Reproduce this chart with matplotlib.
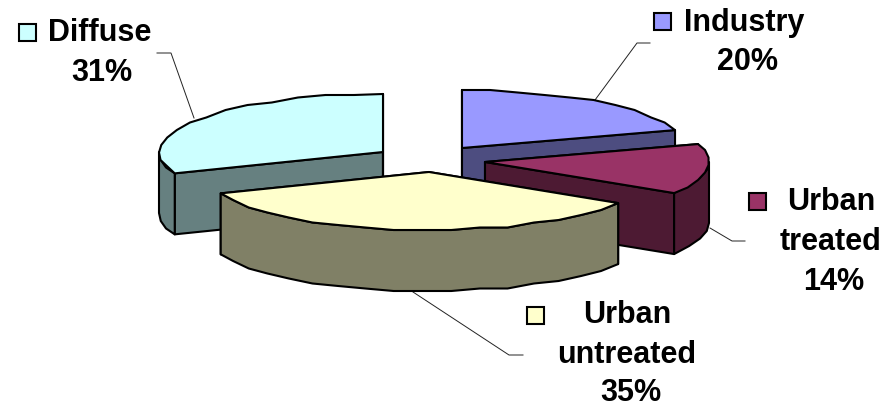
"""3D exploded pie of pollution sources, drawn as extruded elliptical slices."""
import numpy as np
import matplotlib
matplotlib.use('Agg')
import matplotlib.pyplot as plt
from matplotlib.patches import Polygon, Rectangle

categories = ['Industry', 'Urban\ntreated', 'Urban\nuntreated', 'Diffuse']
shares = [20, 14, 35, 31]
top_colors = ['#9999FF', '#993366', '#FFFFCC', '#CCFFFF']
side_colors = ['#4D4D80', '#4D1A33', '#808066', '#668080']

# pie geometry, in pixels
RX, RY = 224, 58
DEPTH = 61
APEX = [(462, 148), (485, 162), (429, 172), (383, 152)]  # exploded slice tips
SNAP = 2.5  # coarse vertical steps, gives the arcs their stepped look

# label layout: text centre x, line baselines y, key box, leader polyline
LABELS = {
    'Industry': dict(x=[744, 747], y=[31, 70], key=(654, 13), leader=[(650, 43), (637, 43), (595, 100)]),
    'Urban\ntreated': dict(x=[831, 831, 834], y=[210, 250, 290], key=(749, 193), leader=[(745, 241), (732, 241), (710, 228)]),
    'Urban\nuntreated': dict(x=[627, 627, 631], y=[323, 363, 401], key=(527, 307), leader=[(523, 355), (509, 355), (413, 292)]),
    'Diffuse': dict(x=[100, 102], y=[41, 81], key=(19, 24), leader=[(157, 53), (171, 53), (194, 118)]),
}

plt.rcParams['font.family'] = ['Liberation Sans', 'DejaVu Sans']


def rim(ax0, ay0, a0, a1):
    """Stepped points on the slice rim; angles run clockwise from 12 o'clock."""
    n = max(int(abs(a1 - a0) / 7), 1)
    ang = np.radians(np.linspace(a0, a1, n + 1))
    xs = ax0 + RX * np.sin(ang)
    ys = ay0 - RY * np.cos(ang)
    ys[1:-1] = np.round(ys[1:-1] / SNAP) * SNAP
    return np.column_stack([xs, ys])


def draw_slice(ax, a0, a1, tip, top, side):
    ax0, ay0 = tip
    style = dict(edgecolor='black', linewidth=1.5, joinstyle='round')
    down = np.array([0, DEPTH])

    # radial cut faces first, the rim wall and top then cover what is hidden
    apex = np.array([ax0, ay0])
    for a in (a0, a1):
        p = rim(ax0, ay0, a, a)[0]
        ax.add_patch(Polygon([apex, p, p + down, apex + down], facecolor=side, **style))

    lo, hi = max(a0, 90), min(a1, 270)
    if lo < hi:
        arc = rim(ax0, ay0, lo, hi)
        ax.add_patch(Polygon(np.vstack([arc, arc[::-1] + down]), facecolor=side, **style))

    ax.add_patch(Polygon(np.vstack([apex, rim(ax0, ay0, a0, a1)]), facecolor=top, **style))


fig = plt.figure(figsize=(8.94, 4.04), dpi=100)
ax = fig.add_axes([0, 0, 1, 1])
ax.set_xlim(0, 894)
ax.set_ylim(404, 0)
ax.axis('off')

edges = np.cumsum([0] + shares) / sum(shares) * 360
slices = list(zip(edges[:-1], edges[1:], APEX, top_colors, side_colors))
# back to front: Diffuse, Industry, Urban treated, Urban untreated
for i in (3, 0, 1, 2):
    draw_slice(ax, *slices[i])

for name, share, color in zip(categories, shares, top_colors):
    lay = LABELS[name]
    lines = name.split('\n') + [f'{share}%']
    for text, x, y in zip(lines, lay['x'], lay['y']):
        ax.text(x, y, text, fontsize=22, fontweight='bold', ha='center', va='baseline', color='black')
    ax.add_patch(Rectangle(lay['key'], 17, 17, facecolor=color, edgecolor='black', linewidth=1.5))
    lx, ly = zip(*lay['leader'])
    ax.plot(lx, ly, color='#222222', linewidth=0.7, zorder=0.5)

fig.savefig('out.png', dpi=100, facecolor='white')
